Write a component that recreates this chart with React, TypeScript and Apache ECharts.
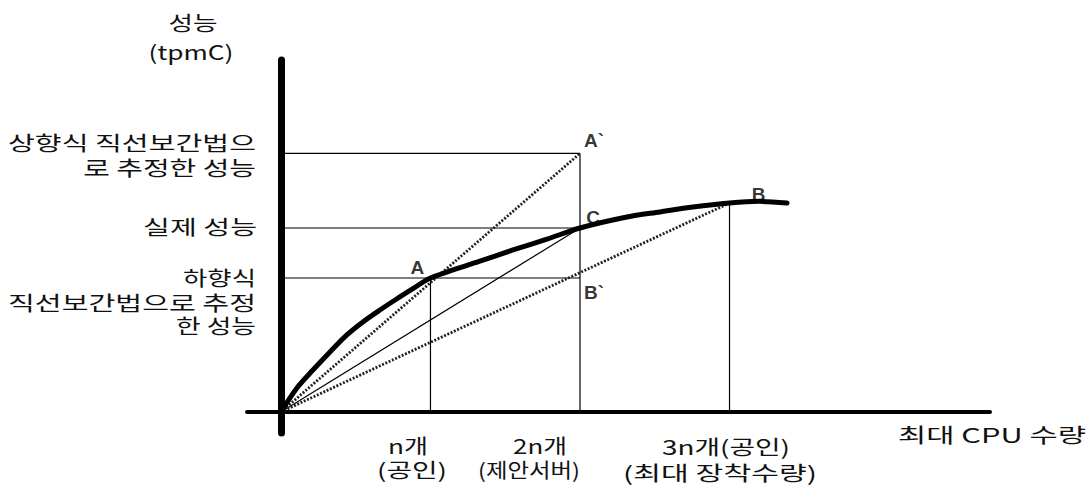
import React, { useEffect, useRef } from "react";
import * as echarts from "echarts";

// ---- data (x in units of n CPUs, y in relative tpmC) ----
const cpuUnits = [1, 2, 3]; // n, 2n, 3n
const actualPerf = [1.0, 1.373, 1.56]; // A, C, B
const upwardEstimate = 1.93; // A`
const downwardEstimate = 1.0; // B`
const curveCpu = [0, 0.107, 0.214, 0.328, 0.441, 0.548, 0.662, 0.776, 0.883, 1.0, 1.331, 1.552, 1.779, 2.0, 2.314, 2.535, 2.756, 3.0, 3.2, 3.385];
const curvePerf = [0, 0.179, 0.313, 0.448, 0.575, 0.672, 0.761, 0.845, 0.92, 1.0, 1.125, 1.209, 1.29, 1.373, 1.455, 1.493, 1.53, 1.56, 1.572, 1.56];
const pointNames = ["A", "C", "B"];
const estimateNames = ["A`", "B`"];

const yTitle = ["성능", "(tpmC)"];
const leftLabels = [
  "상향식 직선보간법으",
  "로 추정한 성능",
  "실제 성능",
  "하향식",
  "직선보간법으로 추정",
  "한 성능",
];
const bottomLabels = [
  ["n개", "(공인)"],
  ["2n개", "(제안서버)"],
  ["3n개(공인)", "(최대 장착수량)"],
];
const xTitle = "최대 CPU 수량";

const FAMILY = '"Noto Sans CJK KR", "Noto Sans", sans-serif';
const FONT = `20px ${FAMILY}`;

let ctx: CanvasRenderingContext2D | null = null;
function measure(text: string, font: string): number {
  if (!ctx) ctx = document.createElement("canvas").getContext("2d");
  if (!ctx) return text.length * 20;
  ctx.font = font;
  return ctx.measureText(text).width;
}

function fitText(text: string, x: number, y: number, width: number, align: string, font = FONT) {
  const w = measure(text, font);
  return {
    type: "text",
    x,
    y,
    scaleX: w > 0 ? width / w : 1,
    style: { text, font, fill: "#111", align, verticalAlign: "middle" },
  };
}

export default function App() {
  const ref = useRef<HTMLDivElement>(null);
  useEffect(() => {
    if (!ref.current) return;
    const chart = echarts.init(ref.current, undefined, { renderer: "svg" });

    const seg = (a: number[], b: number[], style: any) => ({
      type: "line",
      data: [a, b],
      symbol: "none",
      silent: true,
      lineStyle: style,
      z: 3,
    });
    const thin = { color: "#000", width: 1.2 };
    const dotted = { color: "#222", width: 2.8, type: [2, 1.6] };

    const graphics: any[] = [
      fitText(yTitle[0], 193, 23, 49, "center"),
      fitText(yTitle[1], 191, 51, 85, "center"),
      fitText(leftLabels[0], 256, 142, 248, "right"),
      fitText(leftLabels[1], 256, 167, 173, "right"),
      fitText(leftLabels[2], 257, 226, 114, "right"),
      fitText(leftLabels[3], 256, 277, 73, "right"),
      fitText(leftLabels[4], 256, 302, 248, "right"),
      fitText(leftLabels[5], 256, 326, 80, "right"),
      fitText(bottomLabels[0][0], 408, 445, 40, "center"),
      fitText(bottomLabels[0][1], 412, 469, 70, "center"),
      fitText(bottomLabels[1][0], 540, 445, 54, "center"),
      fitText(bottomLabels[1][1], 529, 469, 102, "center"),
      fitText(bottomLabels[2][0], 726, 446, 128, "center"),
      fitText(bottomLabels[2][1], 720, 472, 194, "center"),
      fitText(xTitle, 898, 434, 188, "left"),
    ];

    const labelFont = {
      fontFamily: '"Liberation Sans", Arial, sans-serif',
      fontWeight: "bold",
      fontSize: 19,
      color: "#000",
      textBorderWidth: 0,
    };
    const pt = (value: number[], name: string, offset: number[]) => ({
      value,
      name,
      label: { show: true, position: "inside", offset, formatter: name, ...labelFont },
    });

    chart.setOption({
      animation: false,
      backgroundColor: "#fff",
      grid: { left: 247, right: 99, top: 60, bottom: 52, containLabel: false },
      xAxis: {
        type: "value",
        min: -0.227,
        max: 4.742,
        axisLine: { show: true, onZero: true, lineStyle: { color: "#000", width: 4 } },
        axisTick: { show: false },
        axisLabel: { show: false },
        splitLine: { show: false },
      },
      yAxis: {
        type: "value",
        min: -0.157,
        max: 2.627,
        axisLine: { show: true, onZero: true, lineStyle: { color: "#000", width: 7 } },
        axisTick: { show: false },
        axisLabel: { show: false },
        splitLine: { show: false },
      },
      graphic: graphics,
      series: [
        // horizontal guides
        seg([0, upwardEstimate], [cpuUnits[1], upwardEstimate], thin),
        seg([0, actualPerf[1]], [cpuUnits[1], actualPerf[1]], thin),
        seg([0, actualPerf[0]], [cpuUnits[1], downwardEstimate], thin),
        // vertical guides
        seg([cpuUnits[0], 0], [cpuUnits[0], actualPerf[0]], thin),
        seg([cpuUnits[1], 0], [cpuUnits[1], upwardEstimate], thin),
        seg([cpuUnits[2], 0], [cpuUnits[2], actualPerf[2]], thin),
        // thin chord to C
        seg([0, 0], [cpuUnits[1], actualPerf[1]], thin),
        // dotted interpolation lines
        seg([0, 0], [cpuUnits[1], upwardEstimate], dotted),
        seg([0, 0], [cpuUnits[2], actualPerf[2]], dotted),
        // actual performance curve
        {
          type: "line",
          data: curveCpu.map((x, i) => [x, curvePerf[i]]),
          smooth: 0.3,
          symbol: "none",
          silent: true,
          lineStyle: { color: "#000", width: 5, cap: "round", join: "round" },
          z: 4,
        },
        // point labels
        {
          type: "scatter",
          symbolSize: 1,
          itemStyle: { color: "rgba(0,0,0,0)" },
          silent: true,
          z: 5,
          data: [
            pt([cpuUnits[0], actualPerf[0]], pointNames[0], [-13, -10]),
            pt([cpuUnits[1], actualPerf[1]], pointNames[1], [13, -11]),
            pt([cpuUnits[2], actualPerf[2]], pointNames[2], [29, -8]),
            pt([cpuUnits[1], upwardEstimate], estimateNames[0], [14, -13]),
            pt([cpuUnits[1], downwardEstimate], estimateNames[1], [14, 15]),
          ],
        },
      ],
    });
    return () => chart.dispose();
  }, []);
  return (
    <div
      ref={ref}
      style={{ position: "absolute", left: 0, top: 0, width: 1089, height: 485, background: "#fff" }}
    />
  );
}
